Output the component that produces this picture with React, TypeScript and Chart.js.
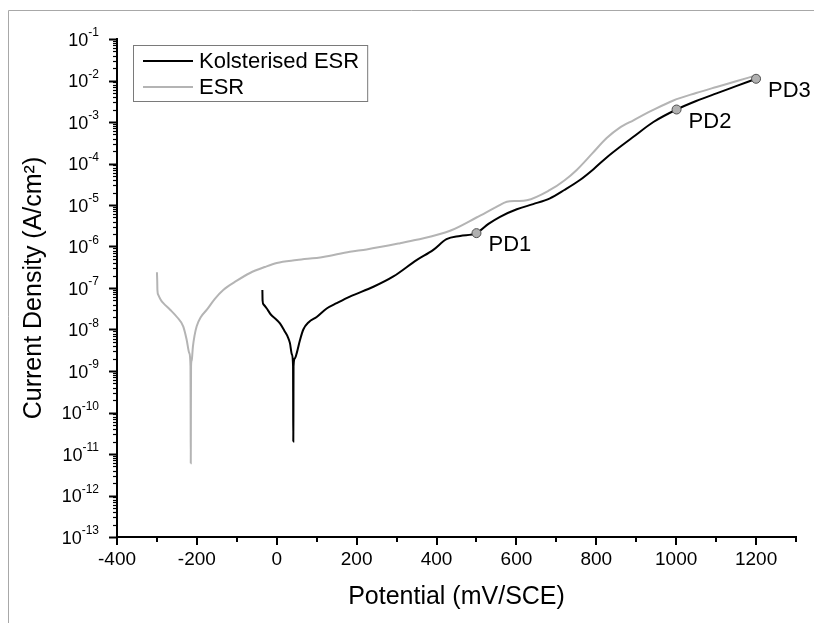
import React, { useEffect, useRef } from 'react';
import { Chart, registerables } from 'chart.js';

Chart.register(...registerables);

// ---- data ----
const seriesNames = ['Kolsterised ESR', 'ESR'];

const kolsterisedX = [-36, -35.5, -33, -25, -15, 0, 8, 20, 28, 33, 38, 40.8, 41.1, 41.4, 41.7, 42, 45, 50, 58, 66.5, 80, 100, 125, 150, 183, 242, 292, 350, 392, 425, 459, 500, 530, 559, 601, 642, 684, 720, 759, 793, 826, 859, 893, 943, 1001, 1050, 1101, 1150, 1200];
const kolsterisedY = [9e-8, 5e-8, 4e-8, 3.2e-8, 2.3e-8, 1.7e-8, 1.4e-8, 9e-9, 6.5e-9, 4.7e-9, 2.5e-9, 1.3e-9, 1e-10, 2e-11, 1e-10, 1.3e-9, 2e-9, 2.7e-9, 5.5e-9, 1e-8, 1.5e-8, 2e-8, 3.2e-8, 4.3e-8, 6.2e-8, 1.07e-7, 1.9e-7, 4.7e-7, 8.3e-7, 1.5e-6, 1.8e-6, 2.1e-6, 3.5e-6, 5.2e-6, 7.9e-6, 1.05e-5, 1.45e-5, 2.3e-5, 4e-5, 7.3e-5, 1.4e-4, 2.5e-4, 4.4e-4, 1e-3, 2e-3, 3.2e-3, 4.9e-3, 7.3e-3, 1.1e-2];

const esrX = [-300, -299.3, -298.8, -296.6, -291, -284, -267, -250, -234, -225.5, -219, -216, -215.6, -215.3, -215, -214.6, -213, -210, -206, -200.5, -190, -175, -155, -134, -100, -67, -30, 0, 50, 116, 183, 225, 309, 350, 434, 500, 550, 576, 600, 626, 684, 720, 751, 790, 826, 858, 893, 940, 993, 1050, 1101, 1150, 1197];
const esrY = [2.4e-7, 1.5e-7, 8.9e-8, 6.8e-8, 5.3e-8, 4.3e-8, 3e-8, 2e-8, 1.17e-8, 5.6e-9, 2.7e-9, 1.3e-9, 1e-10, 6e-12, 1e-10, 1.3e-9, 1.8e-9, 3.8e-9, 7e-9, 1.2e-8, 2e-8, 3e-8, 5.5e-8, 9e-8, 1.5e-7, 2.3e-7, 3.2e-7, 4e-7, 4.7e-7, 5.6e-7, 7.5e-7, 8.5e-7, 1.2e-6, 1.45e-6, 2.4e-6, 5e-6, 9e-6, 1.2e-5, 1.25e-5, 1.3e-5, 2.3e-5, 3.9e-5, 7e-5, 1.75e-4, 4.1e-4, 7.2e-4, 1.1e-3, 1.9e-3, 3.3e-3, 5e-3, 7e-3, 9.6e-3, 1.3e-2];

const pdLabels = ['PD1', 'PD2', 'PD3'];
const pdX = [500, 1001, 1200];
const pdY = [2.1e-6, 2e-3, 1.1e-2];

const xTickValues = [-400, -200, 0, 200, 400, 600, 800, 1000, 1200];
const xMinorTickValues = [-300, -100, 100, 300, 500, 700, 900, 1100, 1300];
const yTickExponents = [-13, -12, -11, -10, -9, -8, -7, -6, -5, -4, -3, -2, -1];

const xTitle = 'Potential (mV/SCE)';
const yTitle = 'Current Density (A/cm\u00B2)';

// ---- styling ----
const FONT = '"Liberation Sans", Arial, sans-serif';

const decorPlugin = {
  id: 'decor',
  beforeDraw(chart: any) {
    const ctx = chart.ctx;
    ctx.save();
    ctx.strokeStyle = '#a8a8a8';
    ctx.lineWidth = 1;
    ctx.beginPath();
    ctx.moveTo(8.5, chart.height);
    ctx.lineTo(8.5, 10.5);
    ctx.lineTo(chart.width, 10.5);
    ctx.stroke();
    ctx.restore();
  },
  afterDraw(chart: any) {
    const ctx = chart.ctx;
    const xs = chart.scales.x;
    const ys = chart.scales.y;
    ctx.save();
    ctx.strokeStyle = '#000';
    // x ticks (outward, below axis)
    const axisY = xs.top;
    ctx.lineWidth = 2;
    xTickValues.forEach((v) => {
      const px = Math.round(xs.getPixelForValue(v));
      ctx.beginPath();
      ctx.moveTo(px, axisY);
      ctx.lineTo(px, axisY + 8);
      ctx.stroke();
    });
    xMinorTickValues.forEach((v) => {
      const px = Math.round(xs.getPixelForValue(v));
      ctx.beginPath();
      ctx.moveTo(px, axisY);
      ctx.lineTo(px, axisY + 5);
      ctx.stroke();
    });
    // y ticks (outward, left of axis)
    const axisX = ys.right;
    yTickExponents.forEach((e) => {
      for (let k = 1; k <= 9; k++) {
        const v = k * parseFloat('1e' + e);
        if (v > ys.max * 1.0001) break;
        const py = Math.round(ys.getPixelForValue(v)) + 0.5;
        ctx.lineWidth = k === 1 ? 2 : 1.2;
        ctx.beginPath();
        ctx.moveTo(axisX - (k === 1 ? 8 : 4), py);
        ctx.lineTo(axisX, py);
        ctx.stroke();
      }
    });

    // y tick labels: 10 with superscript exponent
    ctx.fillStyle = '#000';
    ys.ticks.forEach((t: any) => {
      const e = String(Math.round(Math.log10(t.value)));
      const py = ys.getPixelForValue(t.value);
      const right = axisX - 18;
      ctx.font = `12px ${FONT}`;
      const ws = ctx.measureText(e).width;
      ctx.textAlign = 'left';
      ctx.textBaseline = 'alphabetic';
      ctx.fillText(e, right - ws, py - 3);
      ctx.font = `18px ${FONT}`;
      ctx.textAlign = 'right';
      ctx.fillText('10', right - ws, py + 6.5);
    });

    // legend (custom box)
    const lines = chart.data.datasets.filter((d: any) => seriesNames.includes(d.label));
    const lx = 133, ly = 45, lh = 56;
    ctx.font = `22px ${FONT}`;
    const tw = Math.max(...lines.map((d: any) => ctx.measureText(d.label).width));
    const lw = 66 + tw + 8;
    ctx.fillStyle = '#fff';
    ctx.fillRect(lx, ly, lw, lh);
    ctx.strokeStyle = '#7a7a7a';
    ctx.lineWidth = 1;
    ctx.strokeRect(lx + 0.5, ly + 0.5, lw, lh);
    lines.forEach((d: any, i: number) => {
      const yy = ly + 16 + i * 26;
      ctx.strokeStyle = d.borderColor;
      ctx.lineWidth = 2;
      ctx.beginPath();
      ctx.moveTo(lx + 10, yy);
      ctx.lineTo(lx + 60, yy);
      ctx.stroke();
      ctx.fillStyle = '#000';
      ctx.textBaseline = 'alphabetic';
      ctx.textAlign = 'left';
      ctx.fillText(d.label, lx + 66, yy + 7);
    });

    // PD labels
    ctx.font = `22px ${FONT}`;
    ctx.fillStyle = '#000';
    ctx.textBaseline = 'alphabetic';
    ctx.textAlign = 'left';
    pdLabels.forEach((t, i) => {
      const px = xs.getPixelForValue(pdX[i]);
      const py = ys.getPixelForValue(pdY[i]);
      ctx.fillText(t, px + 12, py + 18);
    });
    ctx.restore();
  },
};

export default function App() {
  const ref = useRef<HTMLCanvasElement | null>(null);
  useEffect(() => {
    if (!ref.current) return;
    const chart = new Chart(ref.current, {
      type: 'scatter',
      data: {
        datasets: [
          {
            label: 'PD points',
            data: pdX.map((x, i) => ({ x, y: pdY[i] })),
            showLine: false,
            pointRadius: 4.5,
            pointBackgroundColor: '#b0b0b0',
            pointBorderColor: '#505050',
            pointBorderWidth: 1,
            order: 0,
          },
          {
            label: seriesNames[0],
            data: kolsterisedX.map((x, i) => ({ x, y: kolsterisedY[i] })),
            showLine: true,
            borderColor: '#000000',
            borderWidth: 2,
            pointRadius: 0,
            cubicInterpolationMode: 'monotone',
            order: 1,
          },
          {
            label: seriesNames[1],
            data: esrX.map((x, i) => ({ x, y: esrY[i] })),
            showLine: true,
            borderColor: '#b4b4b4',
            borderWidth: 2,
            pointRadius: 0,
            cubicInterpolationMode: 'monotone',
            order: 2,
          },
        ],
      },
      options: {
        responsive: false,
        animation: false,
        layout: { padding: { left: 0, top: 39, right: 18, bottom: 0 } },
        plugins: { legend: { display: false }, tooltip: { enabled: false } },
        scales: {
          x: {
            type: 'linear',
            min: -400,
            max: 1300,
            afterBuildTicks: (s: any) => {
              s.ticks = xTickValues.map((v) => ({ value: v }));
            },
            afterFit: (s: any) => {
              s.height = 86;
            },
            grid: { display: false, drawTicks: false },
            border: { display: true, color: '#000', width: 2 },
            ticks: {
              autoSkip: false,
              maxRotation: 0,
              padding: 11,
              color: '#000',
              font: { family: FONT, size: 19 },
              callback: (v: any) => String(v),
            },
            title: {
              display: true,
              text: xTitle,
              color: '#000',
              font: { family: FONT, size: 25 },
              padding: { top: 0, bottom: 11 },
            },
          },
          y: {
            type: 'logarithmic',
            min: 1e-13,
            max: 1e-1,
            afterBuildTicks: (s: any) => {
              s.ticks = yTickExponents.map((e) => ({ value: parseFloat('1e' + e) }));
            },
            afterFit: (s: any) => {
              s.width = 117;
            },
            grid: { display: false, drawTicks: false },
            border: { display: true, color: '#000', width: 2 },
            ticks: { display: false },
            title: {
              display: true,
              text: yTitle,
              color: '#000',
              font: { family: FONT, size: 25 },
              padding: { top: 19, bottom: 0 },
            },
          },
        },
      },
      plugins: [decorPlugin],
    });
    return () => chart.destroy();
  }, []);
  return (
    <div style={{ position: 'absolute', left: 0, top: 0, width: 814, height: 623 }}>
      <canvas ref={ref} width={814} height={623} style={{ display: 'block' }} />
    </div>
  );
}
